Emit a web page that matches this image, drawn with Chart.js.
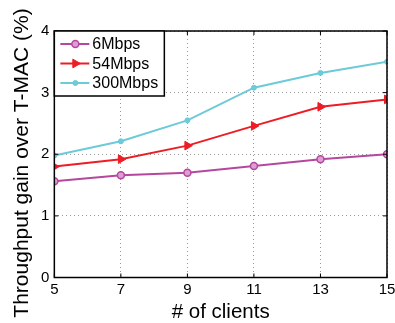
<!DOCTYPE html>
<html>
<head>
<meta charset="utf-8">
<script src="https://cdn.jsdelivr.net/npm/chart.js@4/dist/chart.umd.min.js"></script>
<style>
  html, body { margin: 0; padding: 0; background: #fff; }
  #wrap { width: 395px; height: 323px; }
</style>
</head>
<body>
<div id="wrap"><canvas id="gainChart" width="395" height="323"></canvas></div>
<script>
const clients = [5, 7, 9, 11, 13, 15];
const gain6 = [1.56, 1.66, 1.70, 1.81, 1.92, 2.00];
const gain54 = [1.80, 1.92, 2.14, 2.46, 2.77, 2.89];
const gain300 = [1.98, 2.21, 2.55, 3.08, 3.32, 3.50];
const xTicks = [5, 7, 9, 11, 13, 15];
const yTicks = [0, 1, 2, 3, 4];
const yTitle = "Throughput gain over T-MAC (%)";

const FONT = "'Liberation Sans', Arial, sans-serif";

function toPoints(vals) {
  return clients.map((c, i) => ({ x: c, y: vals[i] }));
}

// frame, inward ticks, y title and the boxed legend, MATLAB style
const framePlugin = {
  id: "frame",
  afterDraw(chart) {
    const { ctx, chartArea: a, scales } = chart;
    ctx.save();
    ctx.strokeStyle = "#000";
    ctx.lineWidth = 1.5;
    ctx.strokeRect(a.left, a.top, a.right - a.left, a.bottom - a.top);
    ctx.lineWidth = 1;
    xTicks.forEach(t => {
      const x = scales.x.getPixelForValue(t);
      ctx.beginPath();
      ctx.moveTo(x, a.bottom); ctx.lineTo(x, a.bottom - 4);
      ctx.moveTo(x, a.top); ctx.lineTo(x, a.top + 4);
      ctx.stroke();
    });
    yTicks.forEach(t => {
      const y = scales.y.getPixelForValue(t);
      ctx.beginPath();
      ctx.moveTo(a.left, y); ctx.lineTo(a.left + 4, y);
      ctx.moveTo(a.right, y); ctx.lineTo(a.right - 4, y);
      ctx.stroke();
    });

    // y axis title (a bit lower than the axis centre, as in the original)
    ctx.save();
    ctx.translate(22, 163);
    ctx.rotate(-Math.PI / 2);
    ctx.font = "21px " + FONT;
    ctx.fillStyle = "#000";
    ctx.textAlign = "center";
    ctx.textBaseline = "middle";
    ctx.fillText(yTitle, 0, 0);
    ctx.restore();

    // legend box
    const bx = a.left, by = a.top, bw = 110, bh = 65;
    ctx.fillStyle = "#fff";
    ctx.fillRect(bx, by, bw, bh);
    ctx.lineWidth = 1.5;
    ctx.strokeStyle = "#000";
    ctx.strokeRect(bx, by, bw, bh);
    ctx.font = "16px " + FONT;
    ctx.textBaseline = "middle";
    chart.data.datasets.forEach((ds, i) => {
      const y = by + 13 + i * 19.5;
      ctx.strokeStyle = ds.borderColor;
      ctx.lineWidth = 2;
      ctx.beginPath();
      ctx.moveTo(bx + 6, y); ctx.lineTo(bx + 35, y);
      ctx.stroke();
      ctx.fillStyle = ds.pointBackgroundColor;
      ctx.strokeStyle = ds.pointBorderColor;
      ctx.lineWidth = ds.pointBorderWidth;
      Chart.helpers.drawPoint(ctx, {
        pointStyle: ds.pointStyle,
        rotation: ds.pointRotation || 0,
        radius: ds.pointRadius,
        borderWidth: ds.pointBorderWidth
      }, bx + 21, y);
      ctx.fillStyle = "#000";
      ctx.fillText(ds.label, bx + 38, y + 1);
    });
    ctx.restore();
  }
};

new Chart(document.getElementById("gainChart"), {
  type: "line",
  data: {
    datasets: [
      {
        label: "6Mbps",
        data: toPoints(gain6),
        borderColor: "#b5479f",
        pointBorderColor: "#b5479f",
        pointBackgroundColor: "#dc9fd2",
        pointStyle: "circle",
        pointRadius: 3.5,
        pointBorderWidth: 1.5,
        borderWidth: 2
      },
      {
        label: "54Mbps",
        data: toPoints(gain54),
        borderColor: "#ee1c24",
        pointBorderColor: "#ee1c24",
        pointBackgroundColor: "#ee1c24",
        pointStyle: "triangle",
        pointRotation: 90,
        pointRadius: 5,
        pointBorderWidth: 1,
        borderWidth: 2
      },
      {
        label: "300Mbps",
        data: toPoints(gain300),
        borderColor: "#6dcad8",
        pointBorderColor: "#6dcad8",
        pointBackgroundColor: "#6dcad8",
        pointStyle: "circle",
        pointRadius: 2.5,
        pointBorderWidth: 1,
        borderWidth: 2
      }
    ]
  },
  options: {
    responsive: false,
    animation: false,
    layout: { padding: { top: 31, right: 0, bottom: 0, left: 36 } },
    plugins: {
      legend: { display: false },
      tooltip: { enabled: false }
    },
    elements: { line: { tension: 0 } },
    scales: {
      x: {
        type: "linear",
        min: 5,
        max: 15,
        afterBuildTicks(axis) { axis.ticks = xTicks.map(v => ({ value: v })); },
        afterFit(axis) { axis.paddingRight = 8; },
        grid: { color: "#999", lineWidth: 1, drawTicks: false },
        border: { display: false, dash: [1, 3] },
        ticks: { color: "#000", font: { family: FONT, size: 15, lineHeight: 1 }, padding: 5, maxRotation: 0 },
        title: { display: true, text: "# of clients", color: "#000", font: { family: FONT, size: 20.5, lineHeight: 1 }, padding: { top: 0, bottom: 0 } }
      },
      y: {
        min: 0,
        max: 4,
        afterBuildTicks(axis) { axis.ticks = yTicks.map(v => ({ value: v })); },
        grid: { color: "#999", lineWidth: 1, drawTicks: false },
        border: { display: false, dash: [1, 3] },
        ticks: { color: "#000", font: { family: FONT, size: 15 }, padding: 5 },
        title: { display: false }
      }
    }
  },
  plugins: [framePlugin]
});
</script>
</body>
</html>
